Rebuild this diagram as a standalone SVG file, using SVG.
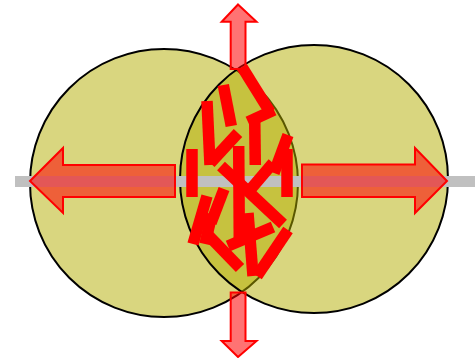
<svg xmlns="http://www.w3.org/2000/svg" width="475" height="358" viewBox="0 0 475 358">
<style>
.circ{fill:rgb(179,173,0);fill-opacity:0.5;stroke:#000;stroke-width:2}
.bar{stroke:#ff0000;stroke-width:11.5;stroke-linecap:butt;fill:none}
.arrow{fill:#ff0000;fill-opacity:0.55;stroke:#ff0000;stroke-width:2;stroke-linejoin:miter}
</style>
<rect width="475" height="358" fill="#fff"/>
<g id="circle-left"><circle class="circ" cx="164" cy="183" r="134"/></g>
<g id="circle-right"><circle class="circ" cx="314" cy="179" r="134"/></g>
<g id="axis"><rect x="15" y="176" width="460" height="11" fill="#c0c0c0"/></g>
<g id="bars">
<line class="bar" x1="242" y1="67" x2="270" y2="112"/>
<line class="bar" x1="223.3" y1="85" x2="231.3" y2="126"/>
<line class="bar" x1="207" y1="101" x2="210" y2="165"/>
<line class="bar" x1="210.3" y1="163" x2="238" y2="133"/>
<line class="bar" x1="248" y1="122" x2="274" y2="110"/>
<line class="bar" x1="254.7" y1="118" x2="255.3" y2="165"/>
<line class="bar" x1="288" y1="135" x2="274" y2="173"/>
<line class="bar" x1="287" y1="149" x2="287" y2="197"/>
<line class="bar" x1="192" y1="149" x2="192" y2="197"/>
<line class="bar" x1="238.7" y1="146" x2="239.3" y2="240"/>
<line class="bar" x1="221" y1="166" x2="283" y2="224"/>
<line class="bar" x1="273" y1="163" x2="250" y2="190"/>
<line class="bar" x1="207" y1="196" x2="193" y2="244"/>
<line class="bar" x1="224" y1="189" x2="211" y2="223"/>
<line class="bar" x1="209" y1="236" x2="240" y2="268"/>
<line class="bar" x1="228" y1="246" x2="273" y2="227"/>
<line class="bar" x1="288" y1="230" x2="257" y2="276"/>
<line class="bar" x1="248" y1="213" x2="253" y2="276"/>
<line class="bar" x1="212" y1="214" x2="205" y2="244"/>
</g>
<g id="arrow-left"><polygon class="arrow" points="30,181 63,148 63,165 175,165 175,197 63,197 63,213"/></g>
<g id="arrow-right"><polygon class="arrow" points="447,181 415,148 415,164.5 302,164.5 302,197 415,197 415,213"/></g>
<g id="arrow-up"><polygon class="arrow" points="238,4.5 256.5,21.7 245.5,21.7 245.5,69 230.7,69 230.7,21.7 221.7,21.7"/></g>
<g id="arrow-down"><polygon class="arrow" points="238,357 256.5,341 245.5,341 245.5,292.5 230.7,292.5 230.7,341 221.7,341"/></g>
</svg>
